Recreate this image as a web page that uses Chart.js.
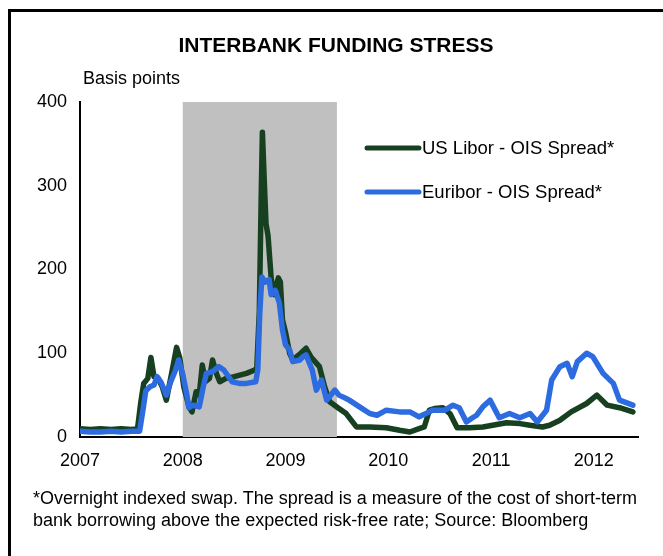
<!DOCTYPE html>
<html>
<head>
<meta charset="utf-8">
<script src="https://cdn.jsdelivr.net/npm/chart.js@4"></script>
<style>
  body { margin: 0; background: #fff; font-family: "Liberation Sans", Arial, sans-serif; }
  #wrap { position: relative; width: 663px; height: 556px; overflow: hidden; }
  #frame { position: absolute; left: 8px; top: 9px; width: 700px; height: 600px; border-left: 3px solid #000; border-top: 3px solid #000; }
  #chart { position: absolute; left: 0; top: 0; }
  .txt { position: absolute; color: #000; white-space: nowrap; }
  #title { left: 0; width: 672px; top: 33px; text-align: center; font-weight: bold; font-size: 21px; }
  #unit { left: 83px; top: 68px; font-size: 18px; }
  #note { left: 33px; top: 487px; font-size: 18px; line-height: 22px; }
</style>
</head>
<body>
<div id="wrap">
  <div id="frame"></div>
  <canvas id="chart" width="663" height="556"></canvas>
  <div class="txt" id="title">INTERBANK FUNDING STRESS</div>
  <div class="txt" id="unit">Basis points</div>
  <div class="txt" id="note">*Overnight indexed swap. The spread is a measure of the cost of short-term<br>bank borrowing above the expected risk-free rate; Source: Bloomberg</div>
</div>
<script>
// US Libor - OIS spread (year fraction, basis points)
var liborDates = [2007.00, 2007.10, 2007.20, 2007.30, 2007.40, 2007.50, 2007.56, 2007.59, 2007.62, 2007.66, 2007.69, 2007.72, 2007.76,
  2007.80, 2007.84, 2007.89, 2007.94, 2007.97, 2008.01, 2008.06, 2008.09, 2008.13, 2008.16,
  2008.19, 2008.22, 2008.26, 2008.29, 2008.33, 2008.36, 2008.42, 2008.50, 2008.62, 2008.70,
  2008.72, 2008.745, 2008.765, 2008.775, 2008.795, 2008.81, 2008.83, 2008.86, 2008.89, 2008.93,
  2008.95, 2008.97, 2009.00, 2009.04, 2009.07, 2009.13, 2009.20, 2009.25, 2009.33, 2009.38,
  2009.43, 2009.52, 2009.59, 2009.69, 2009.82, 2009.98, 2010.11, 2010.21, 2010.30, 2010.35,
  2010.40, 2010.45, 2010.53, 2010.60, 2010.67, 2010.79, 2010.92, 2011.15, 2011.28, 2011.38,
  2011.50, 2011.57, 2011.67, 2011.78, 2011.93, 2012.03, 2012.13, 2012.25, 2012.38];
var liborValues = [10, 9, 10, 9, 10, 9, 10, 40, 64, 70, 95, 72, 70,
  60, 44, 75, 107, 95, 60, 36, 30, 54, 50,
  86, 66, 70, 92, 75, 66, 70, 72, 76, 80,
  82, 150, 300, 364, 300, 255, 240, 190, 170, 190,
  185, 140, 125, 100, 92, 98, 106, 95, 84, 60,
  42, 34, 28, 12, 12, 11, 8, 6, 10, 12,
  32, 34, 35, 28, 11, 11, 12, 17, 16, 14,
  12, 14, 20, 30, 40, 50, 38, 35, 30];

// Euribor - OIS spread
var euriborDates = [2007.00, 2007.10, 2007.20, 2007.30, 2007.40, 2007.50, 2007.58, 2007.61, 2007.64, 2007.68, 2007.72, 2007.75, 2007.79,
  2007.84, 2007.88, 2007.93, 2007.96, 2008.00, 2008.04, 2008.06, 2008.10, 2008.16, 2008.20,
  2008.23, 2008.29, 2008.35, 2008.40, 2008.48, 2008.55, 2008.62, 2008.71, 2008.73, 2008.75,
  2008.77, 2008.80, 2008.84, 2008.86, 2008.90, 2008.94, 2008.97, 2009.00, 2009.04, 2009.07,
  2009.14, 2009.17, 2009.20, 2009.26, 2009.30, 2009.35, 2009.40, 2009.48, 2009.52, 2009.59,
  2009.62, 2009.72, 2009.82, 2009.89, 2009.95, 2009.98, 2010.11, 2010.21, 2010.30, 2010.33,
  2010.40, 2010.43, 2010.55, 2010.63, 2010.69, 2010.76, 2010.82, 2010.86, 2010.92, 2010.99,
  2011.08, 2011.18, 2011.28, 2011.38, 2011.45, 2011.54, 2011.59, 2011.67, 2011.74, 2011.79,
  2011.84, 2011.93, 2011.99, 2012.09, 2012.19, 2012.25, 2012.38];
var euriborValues = [7, 6, 6, 7, 6, 7, 7, 30, 55, 60, 62, 72, 65,
  50, 65, 80, 92, 75, 50, 35, 38, 36, 60,
  76, 78, 84, 80, 66, 64, 64, 66, 80, 150,
  191, 185, 188, 170, 175, 160, 128, 110, 104, 90,
  92, 96, 98, 80, 56, 68, 44, 56, 50, 46,
  44, 36, 28, 26, 30, 32, 30, 30, 24, 26,
  30, 32, 32, 38, 35, 18, 23, 26, 36, 44,
  23, 28, 23, 28, 18, 32, 68, 84, 88, 72,
  90, 100, 96, 76, 64, 44, 38];

var seriesNames = ["US Libor - OIS Spread*", "Euribor - OIS Spread*"];
var seriesColors = ["#16401f", "#2d6be0"];
var yearTicks = [2007, 2008, 2009, 2010, 2011, 2012];
var shadeRange = [2008.0, 2009.5];

function toPoints(xs, ys) {
  return xs.map(function (x, i) { return { x: x, y: ys[i] }; });
}

var shading = {
  id: "shading",
  beforeDatasetsDraw: function (chart) {
    var ctx = chart.ctx, xs = chart.scales.x, ys = chart.scales.y;
    var x0 = xs.getPixelForValue(shadeRange[0]), x1 = xs.getPixelForValue(shadeRange[1]);
    var top = ys.getPixelForValue(400), bot = ys.getPixelForValue(0);
    ctx.save();
    ctx.fillStyle = "#c0c0c0";
    ctx.fillRect(x0, top, x1 - x0, bot - top);
    ctx.restore();
  }
};

var legendInside = {
  id: "legendInside",
  afterDraw: function (chart) {
    var ctx = chart.ctx;
    ctx.save();
    ctx.font = "18.5px 'Liberation Sans', Arial, sans-serif";
    ctx.textBaseline = "middle";
    seriesNames.forEach(function (name, i) {
      var y = 148 + i * 44;
      ctx.strokeStyle = seriesColors[i];
      ctx.lineWidth = 5;
      ctx.lineCap = "round";
      ctx.beginPath();
      ctx.moveTo(367, y);
      ctx.lineTo(419, y);
      ctx.stroke();
      ctx.fillStyle = "#000";
      ctx.fillText(name, 422, y + 1);
    });
    ctx.restore();
  }
};

var chart = new Chart(document.getElementById("chart").getContext("2d"), {
  type: "line",
  data: {
    datasets: [{
      label: seriesNames[0],
      data: toPoints(liborDates, liborValues),
      borderColor: seriesColors[0],
      borderWidth: 5.5,
      pointRadius: 0,
      tension: 0,
      borderJoinStyle: "round",
      borderCapStyle: "round",
      order: 2
    }, {
      label: seriesNames[1],
      data: toPoints(euriborDates, euriborValues),
      borderColor: seriesColors[1],
      borderWidth: 5.5,
      pointRadius: 0,
      tension: 0,
      borderJoinStyle: "round",
      borderCapStyle: "round",
      order: 1
    }]
  },
  options: {
    responsive: false,
    animation: false,
    devicePixelRatio: 1,
    layout: { padding: { top: 102, right: 25, bottom: 0, left: 0 } },
    plugins: { legend: { display: false }, tooltip: { enabled: false } },
    scales: {
      x: {
        type: "linear",
        min: 2007,
        max: 2012.43,
        grid: { display: false, drawTicks: false },
        border: { display: true, color: "#000", width: 2 },
        afterBuildTicks: function (scale) {
          scale.ticks = yearTicks.map(function (v) { return { value: v }; });
        },
        afterFit: function (scale) { scale.height = 119; },
        ticks: {
          padding: 13,
          color: "#000",
          font: { family: "'Liberation Sans', Arial, sans-serif", size: 18 },
          maxRotation: 0,
          callback: function (v) { return String(v); }
        }
      },
      y: {
        min: 0,
        max: 400,
        grid: { display: false, drawTicks: false },
        border: { display: true, color: "#000", width: 2 },
        afterFit: function (scale) { scale.width = 80; },
        ticks: {
          stepSize: 100,
          padding: 13,
          color: "#000",
          font: { family: "'Liberation Sans', Arial, sans-serif", size: 18 }
        }
      }
    }
  },
  plugins: [shading, legendInside]
});
</script>
</body>
</html>
